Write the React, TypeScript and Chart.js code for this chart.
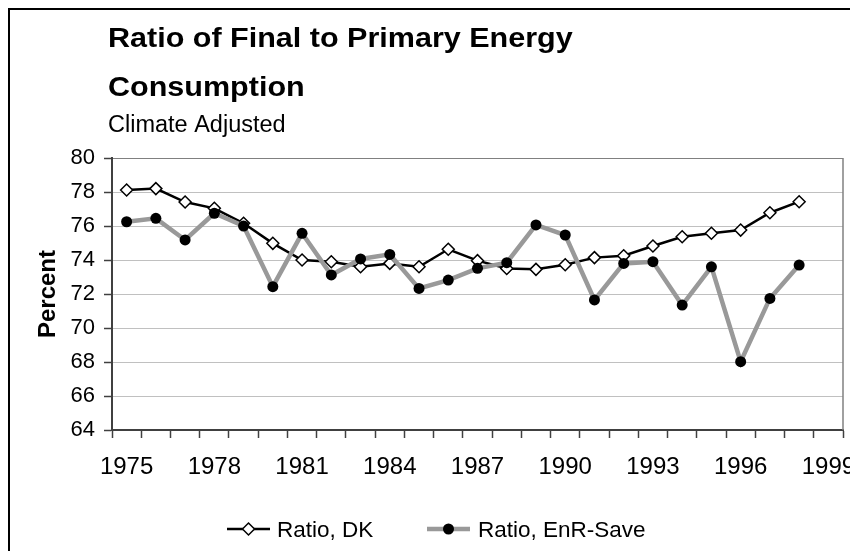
import { useEffect, useRef } from 'react';
import { Chart, registerables } from 'chart.js';

Chart.register(...registerables);

const years = [
  '1975', '1976', '1977', '1978', '1979', '1980', '1981', '1982', '1983', '1984',
  '1985', '1986', '1987', '1988', '1989', '1990', '1991', '1992', '1993', '1994',
  '1995', '1996', '1997', '1998', '1999',
];
const shownYears = ['1975', '1978', '1981', '1984', '1987', '1990', '1993', '1996', '1999'];

const ratioDK = [
  78.12, 78.2, 77.41, 77.04, 76.16, 74.98, 74.0, 73.9, 73.6, 73.8,
  73.6, 74.63, 73.96, 73.5, 73.45, 73.72, 74.14, 74.25, 74.82, 75.37,
  75.57, 75.76, 76.78, 77.43,
];
const ratioEnR = [
  76.25, 76.45, 75.18, 76.75, 76.0, 72.43, 75.57, 73.12, 74.06, 74.33,
  72.33, 72.82, 73.51, 73.84, 76.06, 75.47, 71.65, 73.8, 73.9, 71.35,
  73.6, 68.02, 71.74, 73.7,
];

const yMin = 64;
const yMax = 80;
const yStep = 2;

const titleLines = ['Ratio of Final to Primary Energy', 'Consumption'];
const subtitleText = 'Climate Adjusted';
const yAxisTitle = 'Percent';
const seriesNames = ['Ratio, DK', 'Ratio, EnR-Save'];

const FAM = "'Liberation Sans', Arial, sans-serif";
const W = 900;
const H = 560;

const decor = {
  id: 'decor',
  beforeDraw(chart: any) {
    const ctx = chart.ctx;
    ctx.save();
    ctx.fillStyle = '#ffffff';
    ctx.fillRect(0, 0, chart.width, chart.height);
    ctx.restore();
  },
  beforeDatasetsDraw(chart: any) {
    const { ctx, chartArea: a } = chart;
    ctx.save();
    ctx.strokeStyle = '#808080';
    ctx.lineWidth = 1.5;
    ctx.beginPath();
    ctx.moveTo(a.right, a.top);
    ctx.lineTo(a.right, a.bottom);
    ctx.stroke();
    ctx.restore();
  },
  afterDraw(chart: any) {
    const ctx = chart.ctx;
    ctx.save();
    // outer border
    ctx.strokeStyle = '#000';
    ctx.lineWidth = 2;
    ctx.beginPath();
    ctx.moveTo(1, H);
    ctx.lineTo(1, 1);
    ctx.lineTo(W, 1);
    ctx.stroke();

    ctx.fillStyle = '#000';
    ctx.textAlign = 'left';
    ctx.textBaseline = 'alphabetic';
    // title (slightly widened glyphs, as in the reference)
    ctx.save();
    ctx.translate(100, 0);
    ctx.scale(1.11, 1);
    ctx.font = `bold 27.5px ${FAM}`;
    ctx.fillText(titleLines[0], 0, 39);
    ctx.fillText(titleLines[1], 0, 88);
    ctx.restore();

    ctx.font = `23.5px ${FAM}`;
    ctx.fillText(subtitleText, 100, 123.5);

    // y-axis title
    ctx.save();
    ctx.translate(47, 286);
    ctx.rotate(-Math.PI / 2);
    ctx.textAlign = 'center';
    ctx.font = `bold 24px ${FAM}`;
    ctx.fillText(yAxisTitle, 0, 0);
    ctx.restore();

    // legend
    const ly = 521;
    // DK
    ctx.strokeStyle = '#000';
    ctx.lineWidth = 2.5;
    ctx.beginPath();
    ctx.moveTo(219, ly);
    ctx.lineTo(262, ly);
    ctx.stroke();
    ctx.beginPath();
    const dx = 240.5, r = 6;
    ctx.moveTo(dx - r, ly);
    ctx.lineTo(dx, ly - r);
    ctx.lineTo(dx + r, ly);
    ctx.lineTo(dx, ly + r);
    ctx.closePath();
    ctx.fillStyle = '#fff';
    ctx.fill();
    ctx.lineWidth = 1.5;
    ctx.stroke();
    // EnR
    ctx.strokeStyle = '#999999';
    ctx.lineWidth = 4.5;
    ctx.beginPath();
    ctx.moveTo(419, ly);
    ctx.lineTo(462, ly);
    ctx.stroke();
    ctx.fillStyle = '#000';
    ctx.beginPath();
    ctx.arc(440.5, ly, 5.5, 0, Math.PI * 2);
    ctx.fill();

    ctx.font = `22.5px ${FAM}`;
    ctx.fillStyle = '#000';
    ctx.textAlign = 'left';
    ctx.fillText(seriesNames[0], 269, 529);
    ctx.fillText(seriesNames[1], 470, 529);
    ctx.restore();
  },
};

export default function App() {
  const ref = useRef<HTMLCanvasElement | null>(null);

  useEffect(() => {
    if (!ref.current) return;
    const chart = new Chart(ref.current, {
      type: 'line',
      data: {
        labels: years,
        datasets: [
          {
            label: seriesNames[0],
            data: ratioDK,
            order: 1,
            borderColor: '#000000',
            borderWidth: 2.5,
            pointStyle: 'rectRot',
            pointRadius: 6,
            pointBackgroundColor: '#ffffff',
            pointBorderColor: '#000000',
            pointBorderWidth: 1.5,
            tension: 0,
            fill: false,
          },
          {
            label: seriesNames[1],
            data: ratioEnR,
            order: 0,
            borderColor: '#999999',
            borderWidth: 4.5,
            pointStyle: 'circle',
            pointRadius: 5.5,
            pointBackgroundColor: '#000000',
            pointBorderColor: '#000000',
            pointBorderWidth: 0,
            tension: 0,
            fill: false,
          },
        ],
      },
      options: {
        responsive: false,
        animation: false,
        devicePixelRatio: 1,
        layout: { padding: { top: 150, left: 0, right: W - 835, bottom: H - 422 - 60 } },
        plugins: {
          legend: { display: false },
          title: { display: false },
          tooltip: { enabled: false },
        },
        scales: {
          x: {
            type: 'category',
            offset: true,
            afterFit: (s: any) => { s.height = 60; },
            grid: {
              offset: true,
              drawOnChartArea: false,
              drawTicks: true,
              tickLength: 8,
              tickColor: '#404040',
              tickWidth: 1.5,
            },
            border: { color: '#404040', width: 2 },
            ticks: {
              autoSkip: false,
              maxRotation: 0,
              minRotation: 0,
              padding: 15,
              color: '#000',
              font: { family: FAM, size: 24 },
              callback: (_v: any, i: number) => (shownYears.includes(years[i]) ? years[i] : ''),
            },
          },
          y: {
            min: yMin,
            max: yMax,
            afterFit: (s: any) => { s.width = 104; },
            grid: {
              color: (c: any) => (c.tick && c.tick.value === yMax ? '#808080' : '#c0c0c0'),
              lineWidth: 1,
              tickLength: 8,
              tickColor: '#404040',
              tickWidth: 1.5,
            },
            border: { color: '#404040', width: 2 },
            ticks: {
              stepSize: yStep,
              padding: 9,
              color: '#000',
              font: { family: FAM, size: 22 },
            },
          },
        },
      },
      plugins: [decor],
    });
    return () => chart.destroy();
  }, []);

  return (
    <div
      style={{
        position: 'fixed',
        left: 8,
        top: 8,
        width: 842,
        height: 543,
        overflow: 'hidden',
        background: '#fff',
      }}
    >
      <canvas ref={ref} width={W} height={H} style={{ display: 'block', width: W, height: H }} />
    </div>
  );
}
